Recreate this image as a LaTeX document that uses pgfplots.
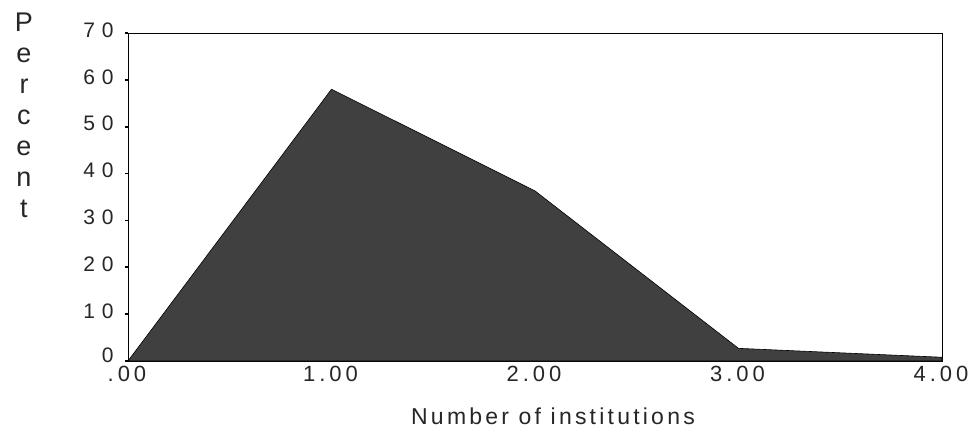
\documentclass[border=0pt]{standalone}
\usepackage{fontspec}
\setmainfont{Liberation Sans}
\newfontfamily\spaced[LetterSpace=18]{Liberation Sans}
\newfontfamily\spacedl[LetterSpace=14]{Liberation Sans}
\newfontfamily\spacedy[LetterSpace=32]{Liberation Sans}
\usepackage{pgfplots}
\pgfplotsset{compat=1.18}
\definecolor{areagray}{HTML}{404040}
\begin{document}
\begin{tikzpicture}
\path[use as bounding box] (-128pt,-71pt) rectangle (842pt,361pt);
\begin{axis}[
  at={(0,0)}, anchor=south west,
  scale only axis,
  width=814pt, height=328pt,
  xmin=0, xmax=4, ymin=0, ymax=70,
  xtick={0,1,2,3,4},
  xticklabels={.00,1.00,2.00,3.00,4.00},
  ytick={0,10,20,30,40,50,60,70},
  yticklabels={\raisebox{6pt}{0},10,20,30,40,50,60,70},
  ytick pos=left,
  xtick pos=bottom,
  tick align=outside,
  major tick length=3pt,
  xtick style={draw=none},
  ytick style={black, line width=1.6pt},
  xticklabel style={font=\spaced\fontsize{22}{26}\selectfont, text=black!85, yshift=1pt, xshift=-1pt},
  yticklabel style={font=\spacedy\fontsize{21}{25}\selectfont, text=black!85, xshift=-8pt, yshift=3pt},
  axis line style={black, line width=0.9pt},
  xlabel={Number of institutions},
  xlabel style={font=\spacedl\fontsize{23}{27}\selectfont, text=black!85, yshift=-19pt, xshift=18pt},
]
\addplot[fill=areagray, draw=black, line width=0.6pt] coordinates {
  (0,0) (1,58) (2,36.3) (3,2.7) (4,0.8)
} \closedcycle;
\end{axis}
\node[anchor=north, align=center, inner sep=0pt, font=\fontsize{27}{31}\selectfont, text=black!85] at (-104pt,348pt) {P\\e\\r\\c\\e\\n\\t};
\end{tikzpicture}
\end{document}
